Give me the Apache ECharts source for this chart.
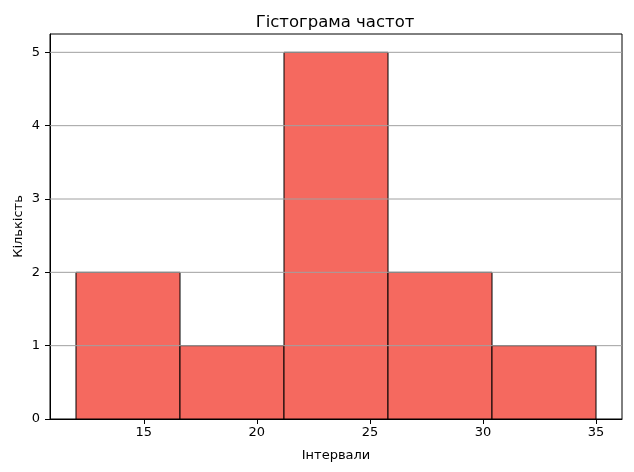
<!DOCTYPE html>
<html>
<head>
<meta charset="utf-8">
<script src="https://cdn.jsdelivr.net/npm/echarts@6/dist/echarts.min.js"></script>
<style>html,body{margin:0;padding:0;background:#fff}#c{width:634px;height:472px}</style>
</head>
<body>
<div id="c"></div>
<script>
var binEdges = [12, 16.6, 21.2, 25.8, 30.4, 35];
var counts = [2, 1, 5, 2, 1];
var xTicks = [15, 20, 25, 30, 35];
var yTicks = [0, 1, 2, 3, 4, 5];
var titleText = 'Гістограма частот';
var xName = 'Інтервали';
var yName = 'Кількість';

var xMin = 10.85, xMax = 36.15, yMin = 0, yMax = 5.25;
var font = 'DejaVu Sans';

var bars = counts.map(function (c, i) { return [binEdges[i], binEdges[i + 1], c]; });
var gridVals = yTicks.filter(function (v) { return v > 0; }).map(function (v) { return [v]; });

var chart = echarts.init(document.getElementById('c'), null, {renderer: 'canvas'});
chart.setOption({
  animation: false,
  backgroundColor: '#fff',
  textStyle: {fontFamily: font},
  title: {
    text: titleText, left: 330, textAlign: 'center', top: 9,
    textStyle: {fontFamily: font, fontSize: 16.5, fontWeight: 'normal', color: '#000'}
  },
  grid: {left: 50, right: 12, top: 34, bottom: 53, show: true, borderColor: '#000', borderWidth: 1, backgroundColor: 'transparent', outerBoundsMode: 'none', containLabel: false},
  xAxis: {
    type: 'value', min: xMin, max: xMax,
    name: xName, nameLocation: 'middle', nameGap: 30, nameMoveOverlap: false,
    nameTextStyle: {fontFamily: font, fontSize: 13, color: '#000'},
    axisLine: {show: true, onZero: false, lineStyle: {color: '#000', width: 1}},
    axisTick: {show: true, length: 5, lineStyle: {color: '#000'}, customValues: xTicks},
    axisLabel: {fontFamily: font, fontSize: 13, color: '#000', margin: 7, customValues: xTicks},
    splitLine: {show: false}
  },
  yAxis: {
    type: 'value', min: yMin, max: yMax,
    name: yName, nameLocation: 'middle', nameGap: 25, nameRotate: 90, nameMoveOverlap: false,
    nameTextStyle: {fontFamily: font, fontSize: 13, color: '#000'},
    axisLine: {show: true, lineStyle: {color: '#000', width: 1}},
    axisTick: {show: true, length: 5, lineStyle: {color: '#000'}, customValues: yTicks},
    axisLabel: {fontFamily: font, fontSize: 13, color: '#000', margin: 10, customValues: yTicks},
    splitLine: {show: false}
  },
  series: [
    {
      type: 'custom', z: 2,
      data: bars,
      encode: {x: [0, 1], y: 2},
      renderItem: function (params, api) {
        var p0 = api.coord([api.value(0), 0]);
        var p1 = api.coord([api.value(1), api.value(2)]);
        return {
          type: 'rect',
          shape: {x: p0[0], y: p1[1], width: p1[0] - p0[0], height: p0[1] - p1[1]},
          style: {fill: '#F5695F', stroke: '#000', lineWidth: 1}
        };
      }
    },
    {
      type: 'custom', z: 3, silent: true,
      data: gridVals,
      encode: {y: 0},
      renderItem: function (params, api) {
        var a = api.coord([xMin, api.value(0)]);
        var b = api.coord([xMax, api.value(0)]);
        return {
          type: 'line',
          shape: {x1: a[0], y1: a[1], x2: b[0], y2: b[1]},
          style: {stroke: '#a0a0a0', lineWidth: 1}
        };
      }
    }
  ]
});
</script>
</body>
</html>
